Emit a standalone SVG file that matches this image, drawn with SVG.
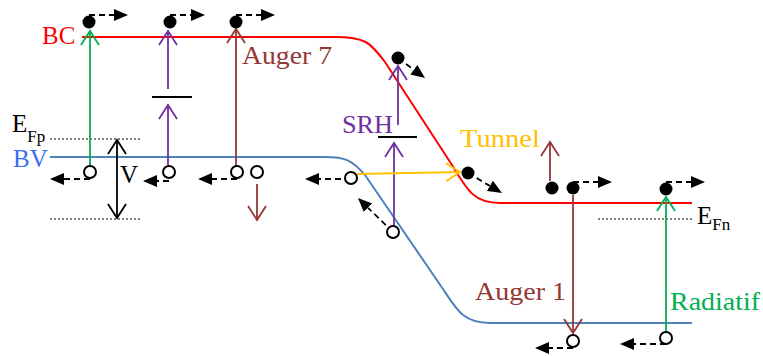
<svg xmlns="http://www.w3.org/2000/svg" width="763" height="356" viewBox="0 0 763 356">
<style>
text{font-family:"Liberation Serif","Times New Roman",serif;font-size:25px}
.band{fill:none;stroke-width:2}
.dot{stroke:#808080;stroke-width:2;stroke-dasharray:2,2;fill:none}
.dash{stroke:#000;stroke-width:1.8;stroke-dasharray:6,4;fill:none;marker-end:url(#tri)}
.tr{fill:none;stroke-width:1.8}
.e{fill:#000}
.h{fill:#fff;stroke:#000;stroke-width:2}
.trap{stroke:#000;stroke-width:2}
</style>
<defs>
<marker id="tri" markerUnits="userSpaceOnUse" markerWidth="15" markerHeight="14" refX="0" refY="7" orient="auto"><path d="M0,1 L14,7 L0,13 z" fill="#000"/></marker>
<marker id="cg" markerUnits="userSpaceOnUse" markerWidth="18" markerHeight="22" refX="16" refY="11" orient="auto"><path d="M2,2 L16,11 L2,20" fill="none" stroke="#00B050" stroke-width="1.8"/></marker>
<marker id="cp" markerUnits="userSpaceOnUse" markerWidth="18" markerHeight="22" refX="16" refY="11" orient="auto"><path d="M2,2 L16,11 L2,20" fill="none" stroke="#7030A0" stroke-width="1.8"/></marker>
<marker id="cb" markerUnits="userSpaceOnUse" markerWidth="18" markerHeight="22" refX="16" refY="11" orient="auto"><path d="M2,2 L16,11 L2,20" fill="none" stroke="#953735" stroke-width="1.8"/></marker>
<marker id="cy" markerUnits="userSpaceOnUse" markerWidth="18" markerHeight="22" refX="16" refY="11" orient="auto"><path d="M2,2 L16,11 L2,20" fill="none" stroke="#FFC000" stroke-width="1.8"/></marker>
<marker id="ck" markerUnits="userSpaceOnUse" markerWidth="18" markerHeight="22" refX="16" refY="11" orient="auto-start-reverse"><path d="M2,2 L16,11 L2,20" fill="none" stroke="#000" stroke-width="1.8"/></marker>
</defs>

<g id="bands">
<path id="BC-band" class="band" stroke="#FF0000" d="M82,37 L335,37 C365,37 370,42 385,62 L452,165 C468,192 475,203 500,203 L692,203"/>
<path id="BV-band" class="band" stroke="#4F81BD" d="M50,157 L325,157 C345,157 352,160 365,175 L445,292 C458,312 465,323 490,323 L692,323"/>
<line class="dot" x1="50" y1="139" x2="142" y2="139"/>
<line class="dot" x1="50" y1="219" x2="142" y2="219"/>
<line class="dot" x1="598" y1="219" x2="692" y2="219"/>
</g>

<g id="connectors">
<line class="tr" stroke="#000" x1="117" y1="140" x2="117" y2="218" marker-start="url(#ck)" marker-end="url(#ck)"/>
<line class="tr" stroke="#00B050" x1="90" y1="166" x2="90" y2="31" marker-end="url(#cg)"/>
<line class="tr" stroke="#7030A0" x1="168" y1="165" x2="168" y2="105" marker-end="url(#cp)"/>
<line class="tr" stroke="#7030A0" x1="168" y1="89" x2="168" y2="31" marker-end="url(#cp)"/>
<line class="tr" stroke="#953735" x1="236" y1="166" x2="236" y2="29" marker-end="url(#cb)"/>
<line class="tr" stroke="#953735" x1="257" y1="184" x2="257" y2="220" marker-end="url(#cb)"/>
<line class="tr" stroke="#7030A0" x1="398" y1="125" x2="398" y2="66" marker-end="url(#cp)"/>
<line class="tr" stroke="#7030A0" x1="394" y1="226" x2="394" y2="143" marker-end="url(#cp)"/>
<line class="tr" stroke="#FFC000" x1="357" y1="174" x2="460" y2="172" marker-end="url(#cy)"/>
<line class="tr" stroke="#953735" x1="550" y1="181" x2="550" y2="142" marker-end="url(#cb)"/>
<line class="tr" stroke="#953735" x1="573" y1="195" x2="573" y2="333" marker-end="url(#cb)"/>
<line class="tr" stroke="#00B050" x1="666" y1="331" x2="666" y2="197" marker-end="url(#cg)"/>

<path class="dash" d="M89,15 L114,15"/>
<path class="dash" d="M170,15 L191,15"/>
<path class="dash" d="M236,15 L261,15"/>
<path class="dash" d="M398,58 L413.8,69.7"/>
<path class="dash" d="M468,173 L489.9,185.9"/>
<path class="dash" d="M573,182 L598,182"/>
<path class="dash" d="M666,182 L691,182"/>
<path class="dash" d="M90,179 L64,179"/>
<path class="dash" d="M169,181 L157,181"/>
<path class="dash" d="M237,179 L212,179"/>
<path class="dash" d="M351,179 L319,179"/>
<path class="dash" d="M393,232 L368,207.8"/>
<path class="dash" d="M573,348 L549,348"/>
<path class="dash" d="M666,344 L634,344"/>
</g>

<g id="trap1"><line class="trap" x1="152" y1="97" x2="192" y2="97"/></g>
<g id="trap2"><line class="trap" x1="378" y1="137" x2="417" y2="137"/></g>

<g id="e1"><circle class="e" cx="89" cy="22" r="6.5"/></g>
<g id="e2"><circle class="e" cx="170" cy="22" r="6.5"/></g>
<g id="e3"><circle class="e" cx="236" cy="22" r="6.5"/></g>
<g id="e4"><circle class="e" cx="398" cy="58" r="6.5"/></g>
<g id="e5"><circle class="e" cx="468" cy="173" r="6.5"/></g>
<g id="e6"><circle class="e" cx="552" cy="188" r="6.5"/></g>
<g id="e7"><circle class="e" cx="573" cy="188" r="6.5"/></g>
<g id="e8"><circle class="e" cx="666" cy="189" r="6.5"/></g>

<g id="h1"><circle class="h" cx="90" cy="172" r="6"/></g>
<g id="h2"><circle class="h" cx="169" cy="172" r="6"/></g>
<g id="h3"><circle class="h" cx="237" cy="172" r="6"/></g>
<g id="h4"><circle class="h" cx="257" cy="172" r="6"/></g>
<g id="h5"><circle class="h" cx="351" cy="178" r="6"/></g>
<g id="h6"><circle class="h" cx="393" cy="232" r="6"/></g>
<g id="h7"><circle class="h" cx="573" cy="341" r="6"/></g>
<g id="h8"><circle class="h" cx="666" cy="338" r="6"/></g>

<g id="labels">
<text x="42" y="44" fill="#FF0000" font-size="24">BC</text>
<text x="13" y="167" fill="#3D6FF0" font-size="24">BV</text>
<text x="12" y="132" fill="#000">E<tspan font-size="17" dy="10">Fp</tspan></text>
<text x="120" y="183" fill="#000" font-size="24">V</text>
<text x="242" y="64" fill="#953735" font-size="26" textLength="90" lengthAdjust="spacingAndGlyphs">Auger 7</text>
<text x="342" y="133" fill="#7030A0" font-size="24" textLength="51" lengthAdjust="spacingAndGlyphs">SRH</text>
<text x="460" y="147" fill="#FFC000" font-size="26" textLength="80" lengthAdjust="spacingAndGlyphs">Tunnel</text>
<text x="475" y="300" fill="#953735" font-size="26" textLength="91" lengthAdjust="spacingAndGlyphs">Auger 1</text>
<text x="670" y="310" fill="#00B050" font-size="26" textLength="90" lengthAdjust="spacingAndGlyphs">Radiatif</text>
<text x="697" y="224" fill="#000">E<tspan font-size="17" dy="6">Fn</tspan></text>
</g>
</svg>
